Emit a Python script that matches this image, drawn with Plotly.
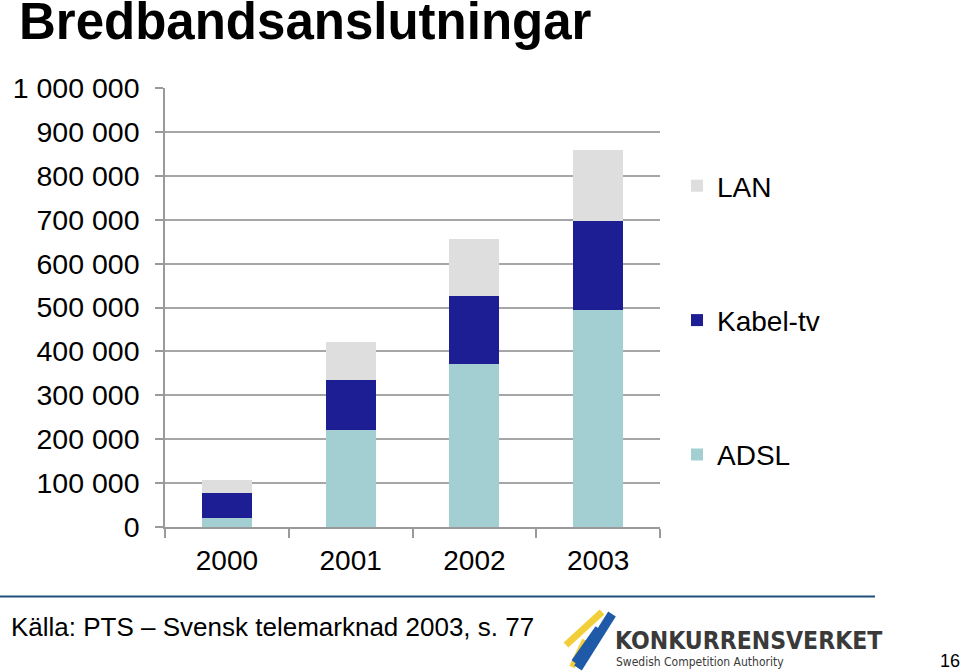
import plotly.graph_objects as go

# ---- data ----
years = ["2000", "2001", "2002", "2003"]
adsl = [21000, 221000, 371000, 494000]
kabel_tv = [57000, 114000, 156000, 204000]
lan = [28000, 86000, 128000, 161000]
y_tickvals = [0, 100000, 200000, 300000, 400000, 500000, 600000, 700000, 800000, 900000, 1000000]
y_ticktext = ["0", "100 000", "200 000", "300 000", "400 000", "500 000",
              "600 000", "700 000", "800 000", "900 000", "1 000 000"]

# ---- layout geometry (pixels) ----
W, H = 960, 672
L, R, T, B = 165, 660, 88, 527


def px(x):
    return (x - L) / (R - L)


def py(y):
    return (B - y) / (B - T)


FONT = "Arial, Liberation Sans, Helvetica, sans-serif"
NARROW = "DejaVu Sans Condensed, Liberation Sans Narrow, Arial Narrow, sans-serif"

fig = go.Figure()
series = [("ADSL", adsl, "#a3ced2", 3), ("Kabel-tv", kabel_tv, "#1e1e94", 2), ("LAN", lan, "#dedede", 1)]
for name, vals, col, rank in series:
    fig.add_trace(go.Bar(
        x=years, y=vals, name=name, legendgroup=name, legendrank=rank,
        marker=dict(color=col, line=dict(width=0)),
    ))

fig.update_layout(
    width=W, height=H,
    margin=dict(l=L, r=W - R, t=T, b=H - B),
    barmode="stack", bargap=0.597,
    plot_bgcolor="white", paper_bgcolor="white",
    font=dict(family=FONT, color="black", size=28),
    showlegend=True,
    legend=dict(
        x=px(677), xanchor="left", y=py(161), yanchor="top",
        traceorder="grouped", tracegroupgap=95,
        font=dict(size=28, family=FONT), bgcolor="rgba(0,0,0,0)",
        itemsizing="constant",
    ),
    xaxis=dict(
        type="category", showline=True, linecolor="#9a9a9a", linewidth=1.5,
        ticks="outside", tickson="boundaries", ticklen=9, tickcolor="#9a9a9a",
        tickwidth=1.5, showgrid=False, tickfont=dict(size=28), ticklabelstandoff=8,
    ),
    yaxis=dict(
        range=[0, 1000000], tickvals=y_tickvals, ticktext=y_ticktext,
        showline=True, linecolor="#9a9a9a", linewidth=1.5,
        ticks="outside", ticklen=8, tickcolor="#9a9a9a", tickwidth=1.5,
        showgrid=True, gridcolor="#a6a6a6", gridwidth=1.5,
        zeroline=False, tickfont=dict(size=28.5), ticklabelstandoff=10,
    ),
)

annotations = [
    dict(text="<b>Bredbandsanslutningar</b>", x=px(17), y=py(21), xanchor="left", yanchor="middle",
         font=dict(size=51, family=FONT)),
    dict(text="Källa: PTS – Svensk telemarknad 2003, s. 77", x=px(9), y=py(627),
         xanchor="left", yanchor="middle", font=dict(size=26, family=FONT)),
    dict(text="<b>KONKURRENSVERKET</b>", x=px(613), y=py(640), xanchor="left", yanchor="middle",
         font=dict(size=24.5, family=NARROW, color="#3a3a3a")),
    dict(text="Swedish Competition Authority", x=px(614), y=py(662), xanchor="left", yanchor="middle",
         font=dict(size=12, family=NARROW, color="#3a3a3a")),
    dict(text="16", x=px(950), y=py(661), xanchor="center", yanchor="middle",
         font=dict(size=18, family=FONT)),
]
for a in annotations:
    a.update(xref="paper", yref="paper", showarrow=False)
fig.update_layout(annotations=annotations)

shapes = [
    dict(type="line", x0=px(0), x1=px(875), y0=py(596.5), y1=py(596.5),
         line=dict(color="#1f4e79", width=2)),
    dict(type="line", x0=px(602), y0=py(612), x1=px(566), y1=py(645),
         line=dict(color="#f2cf3a", width=7)),
    dict(type="line", x0=px(585), y0=py(640), x1=px(572), y1=py(667),
         line=dict(color="#f2cf3a", width=6)),
    dict(type="line", x0=px(612), y0=py(614), x1=px(578), y1=py(668),
         line=dict(color="#1f5aa8", width=9)),
    dict(type="line", x0=px(598), y0=py(628), x1=px(574), y1=py(662),
         line=dict(color="#1f5aa8", width=6)),
]
for s in shapes:
    s.update(xref="paper", yref="paper")
fig.update_layout(shapes=shapes)

fig.write_html("out.html")
